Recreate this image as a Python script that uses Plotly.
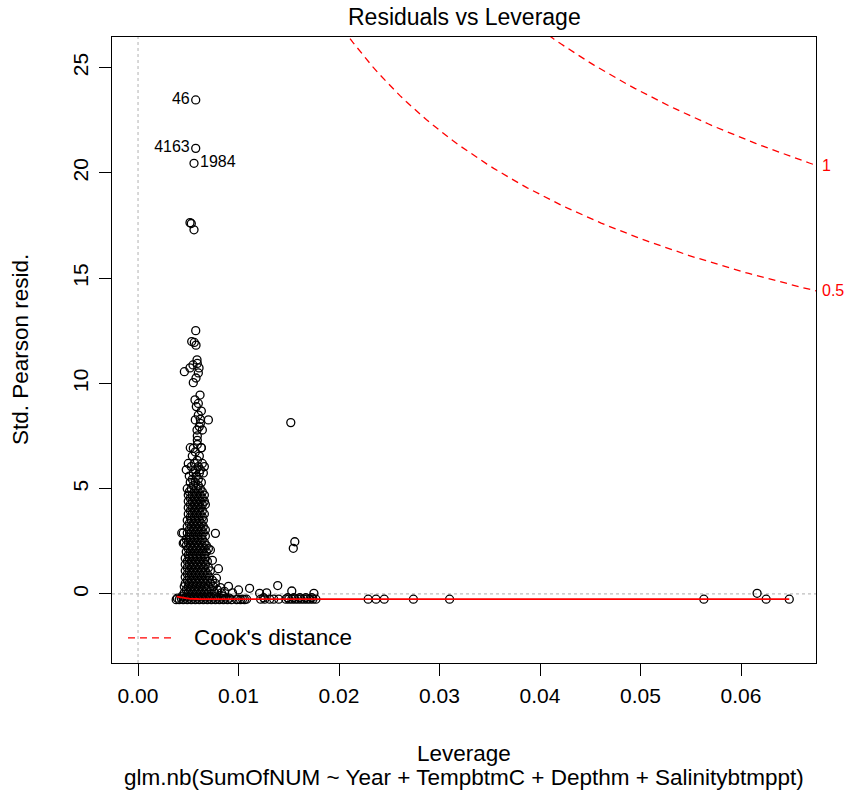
import numpy as np
import plotly.graph_objects as go

# ---------------------------------------------------------------
# Residuals vs Leverage diagnostic for
# glm.nb(SumOfNUM ~ Year + TempbtmC + Depthm + Salinitybtmppt)
# ---------------------------------------------------------------

# Observations flagged with their row id
id_lev = [0.00574, 0.00574, 0.00557]
id_res = [23.47, 21.17, 20.46]
id_names = ["46", "4163", "1984"]
id_side = ["middle left", "middle left", "middle right"]

# Large residuals above the main column (leverage, std. Pearson residual)
upper_pts = [
    (0.00517, 17.64), (0.00530, 17.60), (0.00557, 17.30),
    (0.00574, 12.51), (0.00534, 11.99), (0.00577, 11.82), (0.00560, 11.95),
    (0.00587, 11.12), (0.00547, 10.88), (0.00461, 10.56), (0.00607, 10.74),
    (0.00517, 10.74), (0.00577, 10.26), (0.00550, 10.04), (0.00600, 10.50),
    (0.00590, 10.95),
    (0.00617, 9.45), (0.00567, 9.22), (0.00580, 8.90), (0.00630, 8.69),
    (0.00700, 8.27), (0.00570, 8.27), (0.00600, 8.50), (0.00587, 7.79),
    (0.00640, 7.79), (0.00590, 7.51), (0.00610, 7.95), (0.00620, 8.10),
    (0.00600, 9.05), (0.00620, 8.30),
    (0.00550, 6.92), (0.00630, 6.94), (0.00590, 7.30),
    (0.01520, 8.14),
]

# Dense column of low-leverage observations
column_pts = [
    (0.0059, 7.10),
    (0.0052, 6.95), (0.0063, 6.95),
    (0.0057, 6.75),
    (0.0054, 6.55), (0.0061, 6.55),
    (0.0059, 6.35),
    (0.0050, 6.20), (0.0056, 6.20), (0.0064, 6.20),
    (0.0053, 6.05), (0.0060, 6.05), (0.0066, 6.05),
    (0.0048, 5.90), (0.0057, 5.90), (0.0062, 5.90),
    (0.0055, 5.75), (0.0061, 5.75), (0.0065, 5.75),
    (0.0051, 5.60), (0.0058, 5.60),
    (0.0054, 5.45), (0.0060, 5.45),
    (0.0052, 5.30), (0.0057, 5.30), (0.0063, 5.30),
    (0.0055, 5.15), (0.0060, 5.15),
    (0.0049, 5.00), (0.0053, 5.00), (0.0058, 5.00), (0.0062, 5.00),
    (0.0051, 4.85), (0.0056, 4.85), (0.0060, 4.85), (0.0064, 4.85),
    (0.0050, 4.70), (0.0054, 4.70), (0.0058, 4.70), (0.0062, 4.70), (0.0066, 4.70),
    (0.0052, 4.55), (0.0056, 4.55), (0.0060, 4.55), (0.0064, 4.55),
    (0.0050, 4.40), (0.0054, 4.40), (0.0058, 4.40), (0.0062, 4.40), (0.0066, 4.40),
    (0.0052, 4.25), (0.0056, 4.25), (0.0060, 4.25), (0.0064, 4.25), (0.0067, 4.25),
    (0.0050, 4.10), (0.0054, 4.10), (0.0058, 4.10), (0.0062, 4.10),
    (0.0052, 3.95), (0.0056, 3.95), (0.0060, 3.95), (0.0064, 3.95),
    (0.0050, 3.80), (0.0054, 3.80), (0.0058, 3.80), (0.0062, 3.80), (0.0066, 3.80),
    (0.0052, 3.65), (0.0056, 3.65), (0.0060, 3.65), (0.0064, 3.65),
    (0.0049, 3.50), (0.0053, 3.50), (0.0057, 3.50), (0.0061, 3.50), (0.0065, 3.50),
    (0.0051, 3.35), (0.0055, 3.35), (0.0059, 3.35), (0.0063, 3.35),
    (0.0049, 3.20), (0.0053, 3.20), (0.0057, 3.20), (0.0061, 3.20), (0.0065, 3.20),
    (0.0051, 3.05), (0.0055, 3.05), (0.0059, 3.05), (0.0063, 3.05), (0.0067, 3.05),
    (0.0045, 2.90), (0.0049, 2.90), (0.0053, 2.90), (0.0057, 2.90), (0.0061, 2.90), (0.0065, 2.90),
    (0.0051, 2.75), (0.0055, 2.75), (0.0059, 2.75), (0.0063, 2.75), (0.0067, 2.75),
    (0.0048, 2.60), (0.0052, 2.60), (0.0056, 2.60), (0.0060, 2.60), (0.0064, 2.60),
    (0.0046, 2.45), (0.0050, 2.45), (0.0054, 2.45), (0.0058, 2.45), (0.0062, 2.45), (0.0066, 2.45),
    (0.0048, 2.30), (0.0052, 2.30), (0.0056, 2.30), (0.0060, 2.30), (0.0064, 2.30), (0.0068, 2.30),
    (0.0050, 2.15), (0.0054, 2.15), (0.0058, 2.15), (0.0062, 2.15), (0.0066, 2.15), (0.0070, 2.15),
    (0.0048, 2.00), (0.0052, 2.00), (0.0056, 2.00), (0.0060, 2.00), (0.0064, 2.00), (0.0068, 2.00),
    (0.0050, 1.85), (0.0054, 1.85), (0.0058, 1.85), (0.0062, 1.85), (0.0066, 1.85),
    (0.0047, 1.70), (0.0051, 1.70), (0.0055, 1.70), (0.0059, 1.70), (0.0063, 1.70), (0.0067, 1.70),
    (0.0049, 1.55), (0.0053, 1.55), (0.0057, 1.55), (0.0061, 1.55), (0.0065, 1.55), (0.0069, 1.55),
    (0.0047, 1.40), (0.0051, 1.40), (0.0055, 1.40), (0.0059, 1.40), (0.0063, 1.40), (0.0067, 1.40),
    (0.0049, 1.25), (0.0053, 1.25), (0.0057, 1.25), (0.0061, 1.25), (0.0065, 1.25), (0.0070, 1.25),
    (0.0047, 1.10), (0.0051, 1.10), (0.0055, 1.10), (0.0059, 1.10), (0.0063, 1.10), (0.0067, 1.10), (0.0072, 1.10),
    (0.0049, 0.95), (0.0053, 0.95), (0.0057, 0.95), (0.0061, 0.95), (0.0065, 0.95), (0.0069, 0.95),
    (0.0047, 0.80), (0.0051, 0.80), (0.0055, 0.80), (0.0059, 0.80), (0.0063, 0.80), (0.0067, 0.80), (0.0071, 0.80),
    (0.0049, 0.65), (0.0053, 0.65), (0.0057, 0.65), (0.0061, 0.65), (0.0065, 0.65), (0.0069, 0.65), (0.0074, 0.65),
    (0.0047, 0.50), (0.0051, 0.50), (0.0055, 0.50), (0.0059, 0.50), (0.0063, 0.50), (0.0067, 0.50), (0.0072, 0.50), (0.0077, 0.50),
    (0.0046, 0.35), (0.0050, 0.35), (0.0054, 0.35), (0.0058, 0.35), (0.0062, 0.35), (0.0066, 0.35), (0.0070, 0.35), (0.0075, 0.35),
    (0.0048, 0.20), (0.0052, 0.20), (0.0056, 0.20), (0.0060, 0.20), (0.0064, 0.20), (0.0068, 0.20), (0.0073, 0.20), (0.0079, 0.20),
    (0.0046, 0.05), (0.0050, 0.05), (0.0054, 0.05), (0.0058, 0.05), (0.0062, 0.05), (0.0066, 0.05), (0.0070, 0.05), (0.0076, 0.05), (0.0083, 0.05),
    (0.0044, -0.10), (0.0048, -0.10), (0.0052, -0.10), (0.0056, -0.10), (0.0060, -0.10), (0.0064, -0.10),
    (0.0068, -0.10), (0.0072, -0.10), (0.0078, -0.10), (0.0085, -0.10),
]

# Scattered points to the right of the column
side_pts = [
    (0.00770, 2.88), (0.01545, 2.17), (0.01560, 2.48), (0.00435, 2.90),
    (0.00450, 2.41), (0.00720, 2.09), (0.00780, 0.75), (0.00900, 0.36),
    (0.01000, 0.19), (0.01110, 0.27), (0.00820, 0.30), (0.01210, 0.03),
    (0.01280, 0.05), (0.01390, 0.40), (0.01530, 0.14), (0.01750, 0.03),
    (0.00860, 0.12), (0.00940, 0.05), (0.00800, 1.20), (0.00740, 1.60),
]

# Observations with near-zero counts along the bottom band
base_pts = [
    (0.0039, -0.20), (0.0043, -0.20), (0.0047, -0.20), (0.0051, -0.20), (0.0055, -0.20),
    (0.0059, -0.20), (0.0063, -0.20), (0.0067, -0.20), (0.0071, -0.20), (0.0075, -0.20),
    (0.0079, -0.20), (0.0083, -0.20), (0.0087, -0.20), (0.0091, -0.20),
    (0.0038, -0.27), (0.0041, -0.27), (0.0045, -0.27), (0.0049, -0.27), (0.0053, -0.27),
    (0.0057, -0.27), (0.0061, -0.27), (0.0065, -0.27), (0.0069, -0.27), (0.0073, -0.27),
    (0.0077, -0.27), (0.0081, -0.27), (0.0085, -0.27), (0.0089, -0.27), (0.0093, -0.27),
    (0.0098, -0.27), (0.0102, -0.27), (0.0106, -0.27),
    (0.0099, -0.25), (0.0104, -0.25), (0.0108, -0.25), (0.0122, -0.25), (0.0126, -0.25),
    (0.0131, -0.25), (0.0135, -0.25), (0.0140, -0.25), (0.0147, -0.25), (0.0150, -0.25),
    (0.0153, -0.25), (0.0156, -0.25), (0.0159, -0.25), (0.0162, -0.25), (0.0165, -0.25),
    (0.0168, -0.25), (0.0171, -0.25), (0.0174, -0.25), (0.0177, -0.25),
    (0.0125, -0.18), (0.0149, -0.18), (0.0155, -0.18), (0.0161, -0.18), (0.0167, -0.18),
    (0.0173, -0.18),
]

# High-leverage observations
far_pts = [
    (0.02290, -0.25), (0.02368, -0.25), (0.02450, -0.25), (0.02740, -0.25),
    (0.03100, -0.25), (0.05630, -0.25), (0.06160, 0.03), (0.06250, -0.25),
    (0.06480, -0.25),
]

# Red smoother through the residuals
smooth_lev = [0.00385, 0.0045, 0.0052, 0.0060, 0.0080, 0.0120, 0.0200, 0.0400, 0.0648]
smooth_res = [-0.13, -0.19, -0.23, -0.24, -0.25, -0.25, -0.25, -0.25, -0.25]

# Cook's distance contours
n_coef = 30
cook_levels = [0.5, 1]

x_tick_vals = [0.00, 0.01, 0.02, 0.03, 0.04, 0.05, 0.06]
x_tick_text = ["0.00", "0.01", "0.02", "0.03", "0.04", "0.05", "0.06"]
y_tick_vals = [0, 5, 10, 15, 20, 25]

X_RANGE = [-0.00259, 0.06746]
Y_RANGE = [-3.28, 26.46]

FONT = "Liberation Sans, Arial, sans-serif"
RED = "#FF0000"
TICK_SIZE = 21
LABEL_SIZE = 22.5

fig = go.Figure()

circle = dict(symbol="circle-open", size=8, color="black", line=dict(width=1.3, color="black"))

all_pts = upper_pts + column_pts + side_pts + base_pts + far_pts
fig.add_trace(go.Scatter(
    x=[p[0] for p in all_pts], y=[p[1] for p in all_pts],
    mode="markers", marker=circle, hoverinfo="x+y",
))

fig.add_trace(go.Scatter(
    x=id_lev, y=id_res, mode="markers+text", marker=circle,
    text=id_names, textposition=id_side,
    textfont=dict(family=FONT, size=16, color="black"),
))

fig.add_trace(go.Scatter(
    x=smooth_lev, y=smooth_res, mode="lines",
    line=dict(color=RED, width=1.8),
))

# Contours: std. residual = sqrt(level * p * (1 - h) / h)
hh = np.linspace(min(smooth_lev[0], max(smooth_lev) / 100), X_RANGE[1], 101)
for lvl in cook_levels:
    yy = np.sqrt(lvl * n_coef * (1 - hh) / hh)
    fig.add_trace(go.Scatter(
        x=hh, y=yy, mode="lines",
        line=dict(color=RED, width=1.3, dash="7px,5px"),
    ))
    fig.add_annotation(
        x=X_RANGE[1], y=float(np.sqrt(lvl * n_coef * (1 - X_RANGE[1]) / X_RANGE[1])),
        text=str(lvl), showarrow=False, xanchor="left", xshift=4,
        font=dict(family=FONT, size=16, color=RED),
    )

axis_common = dict(
    showgrid=False, zeroline=False, showline=True, mirror=True,
    linecolor="black", linewidth=1, ticks="outside", ticklen=12,
    tickwidth=1, tickcolor="black",
    tickfont=dict(family=FONT, size=TICK_SIZE, color="black"),
)

fig.update_xaxes(range=X_RANGE, tickvals=x_tick_vals, ticktext=x_tick_text,
                 ticklabelstandoff=2, **axis_common)
fig.update_yaxes(range=Y_RANGE, tickvals=y_tick_vals, tickangle=-90,
                 ticklabelstandoff=3, **axis_common)

# Dotted reference lines at zero
dot = dict(color="#BEBEBE", width=1.2, dash="3px,3px")
fig.add_shape(type="line", xref="paper", yref="y", x0=0, x1=1, y0=0, y1=0,
              line=dot, layer="below")
fig.add_shape(type="line", xref="x", yref="paper", x0=0, x1=0, y0=0, y1=1,
              line=dot, layer="below")

# Legend entry
fig.add_shape(type="line", xref="paper", yref="paper", x0=0.0227, x1=0.0895,
              y0=0.040, y1=0.040, line=dict(color=RED, width=1.3, dash="7px,5px"))
fig.add_annotation(xref="paper", yref="paper", x=0.1136, y=0.040, text="Cook's distance",
                   showarrow=False, xanchor="left", yanchor="middle",
                   font=dict(family=FONT, size=LABEL_SIZE, color="black"))

# Titles
fig.add_annotation(xref="paper", yref="paper", x=0.5, y=1, yshift=20,
                   text="Residuals vs Leverage", showarrow=False,
                   xanchor="center", yanchor="middle",
                   font=dict(family=FONT, size=23, color="black"))
fig.add_annotation(xref="paper", yref="paper", x=0.5, y=0, yshift=-90,
                   text="Leverage", showarrow=False, xanchor="center", yanchor="middle",
                   font=dict(family=FONT, size=LABEL_SIZE, color="black"))
fig.add_annotation(xref="paper", yref="paper", x=0.5, y=0, yshift=-114,
                   text="glm.nb(SumOfNUM ~ Year + TempbtmC + Depthm + Salinitybtmppt)",
                   showarrow=False, xanchor="center", yanchor="middle",
                   font=dict(family=FONT, size=LABEL_SIZE, color="black"))
fig.add_annotation(xref="paper", yref="paper", x=0, y=0.5, xshift=-92,
                   text="Std. Pearson resid.", showarrow=False, textangle=-90,
                   xanchor="center", yanchor="middle",
                   font=dict(family=FONT, size=LABEL_SIZE, color="black"))

fig.update_layout(
    width=847, height=798,
    margin=dict(l=112, r=31, t=37, b=135),
    plot_bgcolor="white", paper_bgcolor="white",
    showlegend=False,
    font=dict(family=FONT, size=TICK_SIZE, color="black"),
)

fig.write_html("out.html")
